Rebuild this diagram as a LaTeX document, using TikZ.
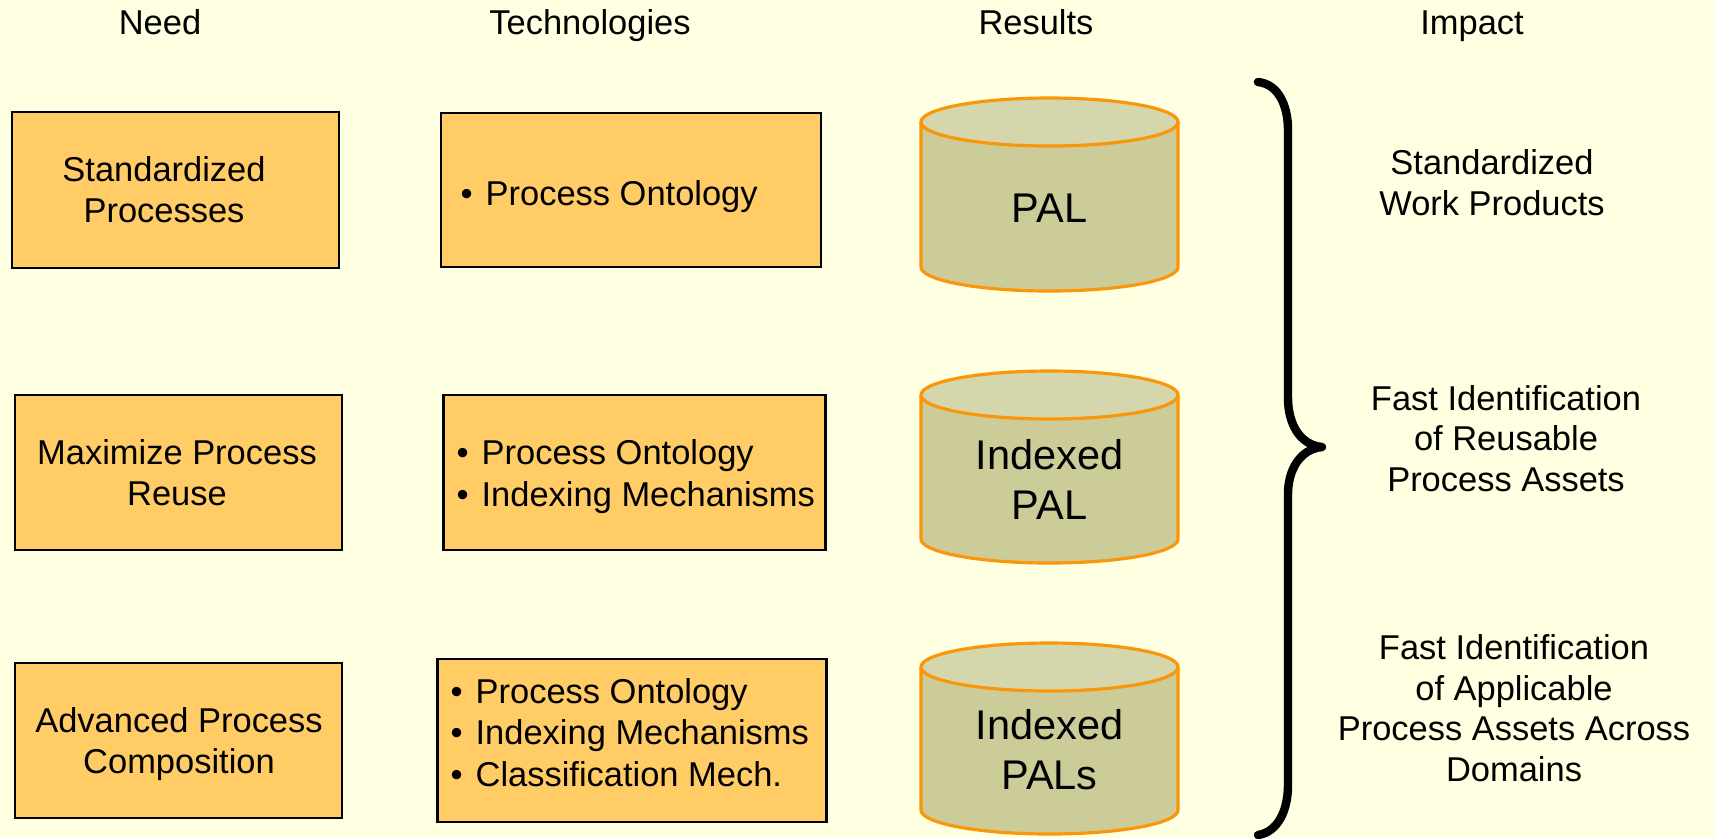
\documentclass[tikz,border=0pt]{standalone}
\usepackage{fontspec}
\setmainfont{Liberation Sans}
\definecolor{bg}{RGB}{255,255,225}
\definecolor{boxfill}{RGB}{255,204,102}
\definecolor{cylbody}{RGB}{204,204,153}
\definecolor{cyltop}{RGB}{213,214,172}
\definecolor{cylline}{RGB}{250,150,10}
\newcommand{\bul}{\makebox[7.1pt][l]{•}}
\newcommand{\drawcyl}[3]{%
  \fill[cylbody] ({#1-128.5},#2) -- ({#1-128.5},#3) arc[start angle=180,end angle=0,x radius=128.5,y radius=24] -- ({#1+128.5},#2) -- cycle;
  \draw[cylline,line width=0.9pt] ({#1-128.5},#2) -- ({#1-128.5},#3) arc[start angle=180,end angle=0,x radius=128.5,y radius=24] -- ({#1+128.5},#2);
  \filldraw[fill=cyltop,draw=cylline,line width=0.9pt] (#1,#2) ellipse[x radius=128.5,y radius=24];
}
\begin{document}
\begin{tikzpicture}[x=0.01cm,y=-0.01cm,
  txt/.style={font=\fontsize{9.8}{11.5}\selectfont, align=center, anchor=base, inner sep=0pt},
  bigtxt/.style={font=\fontsize{11.8}{14.2}\selectfont, align=center, anchor=base, inner sep=0pt},
  listtxt/.style={font=\fontsize{9.8}{11.7}\selectfont, align=left, anchor=base west, inner sep=0pt},
  thinbox/.style={draw=black, line width=0.4pt, fill=boxfill, rectangle, inner sep=0pt},
  thickbox/.style={draw=black, line width=0.8pt, fill=boxfill, rectangle, inner sep=0pt}]
\useasboundingbox (0,0) rectangle (1715,838);
\fill[bg] (0,0) rectangle (1715,838);
% headers
\node[txt] (hneed) at (160,34) {Need};
\node[txt] (htech) at (590,34) {Technologies};
\node[txt] (hres) at (1036,34) {Results};
\node[txt] (himp) at (1472,34) {Impact};
% need boxes
\node[thinbox, minimum width=3.27cm, minimum height=1.56cm] (n1) at (175.5,190) {};
\node[txt] (n1t) at (164,222) {Standardized\\Processes};
\node[thinbox, minimum width=3.27cm, minimum height=1.55cm] (n2) at (178.5,472.5) {};
\node[txt] (n2t) at (177,505) {Maximize Process\\Reuse};
\node[thinbox, minimum width=3.27cm, minimum height=1.55cm] (n3) at (178.5,740.5) {};
\node[txt] (n3t) at (179,773) {Advanced Process\\Composition};
% technology boxes
\node[thinbox, minimum width=3.80cm, minimum height=1.54cm] (t1) at (631,190) {};
\node[listtxt] (t1t) at (460,205) {\bul Process Ontology};
\node[thickbox, minimum width=3.81cm, minimum height=1.55cm] (t2) at (634.5,472.5) {};
\node[listtxt] (t2t) at (456,506) {\bul Process Ontology\\\bul Indexing Mechanisms};
\node[thickbox, minimum width=3.88cm, minimum height=1.63cm] (t3) at (632,740.5) {};
\node[listtxt] (t3t) at (450,786) {\bul Process Ontology\\\bul Indexing Mechanisms\\\bul Classification Mech.};
% cylinders
\drawcyl{1049.5}{122}{267}
\node[bigtxt] (c1) at (1049.5,222) {PAL};
\drawcyl{1049.5}{395}{539}
\node[bigtxt] (c2) at (1049.5,519) {Indexed\\PAL};
\drawcyl{1049.5}{667}{810}
\node[bigtxt] (c3) at (1049.5,789) {Indexed\\PALs};
% brace
\draw[line width=2.4pt, line cap=round, line join=round] (1258,82) .. controls (1278,84) and (1288,105) .. (1288,130) -- (1288,398) .. controls (1288,424) and (1300,445) .. (1322,447) .. controls (1300,449) and (1288,470) .. (1288,494) -- (1288,785) .. controls (1288,810) and (1278,832) .. (1258,835);
% impact
\node[txt] (i1) at (1492,215) {Standardized\\Work Products};
\node[txt] (i2) at (1506,491) {Fast Identification\\of Reusable\\Process Assets};
\node[txt] (i3) at (1514,781) {Fast Identification\\of Applicable\\Process Assets Across\\Domains};
\end{tikzpicture}
\end{document}
